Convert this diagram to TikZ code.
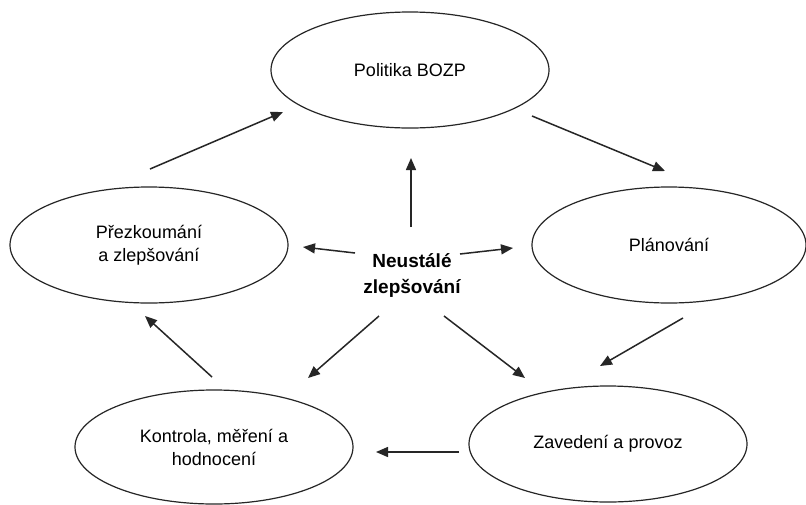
\documentclass[tikz,border=0pt]{standalone}
\usepackage{fontspec}
\setmainfont{Liberation Sans}
\usetikzlibrary{shapes.geometric,arrows.meta,calc}
\begin{document}
\begin{tikzpicture}[x=1pt,y=-1pt,
  phase/.style={draw=black!85,line width=1.2pt,ellipse,inner sep=0pt,
    minimum width=278pt,minimum height=116pt,
    font=\fontsize{18}{23}\selectfont,align=center},
  flow/.style={draw=black!85,line width=1.5pt,
    -{Triangle[length=12pt,width=10pt]}}]
\useasboundingbox (0,0) rectangle (806,504);
\fill[white] (0,0) rectangle (806,504);

% the five phases of the cycle
\node[phase] (T)  at (410,70)  {Politika BOZP};
\node[phase] (L)  at (149,245) {Přezkoumání\\a zlepšování};
\node[phase,minimum width=274pt] (R) at (669,245) {Plánování};
\node[phase,minimum height=114pt] (BL) at (214,447) {Kontrola, měření a\\hodnocení};
\node[phase] (BR) at (608,444) {Zavedení a provoz};

% the hub in the middle
\node[font=\bfseries\fontsize{19}{26}\selectfont,align=center] (C) at (412,275)
  {Neustálé\\zlepšování};

% spokes from the hub
\draw[flow] ($(C)+(-1,-48)$)  -- ($(T)+(1,88)$);
\draw[flow] ($(C)+(-57,-22)$) -- ($(L)+(154,2)$);
\draw[flow] ($(C)+(48,-21)$)  -- ($(R)+(-156,3)$);
\draw[flow] ($(C)+(-33,41)$)  -- ($(BL)+(94,-69)$);
\draw[flow] ($(C)+(32,41)$)   -- ($(BR)+(-83,-66)$);

% the cycle around the rim
\draw[flow] ($(L)+(1,-76)$)   -- ($(T)+(-127,42)$);
\draw[flow] ($(T)+(122,46)$)  -- ($(R)+(-4,-74)$);
\draw[flow] ($(R)+(14,73)$)   -- ($(BR)+(-8,-78)$);
\draw[flow] ($(BR)+(-149,8)$) -- ($(BL)+(162,5)$);
\draw[flow] ($(BL)+(-2,-70)$) -- ($(L)+(-4,71)$);
\end{tikzpicture}
\end{document}
